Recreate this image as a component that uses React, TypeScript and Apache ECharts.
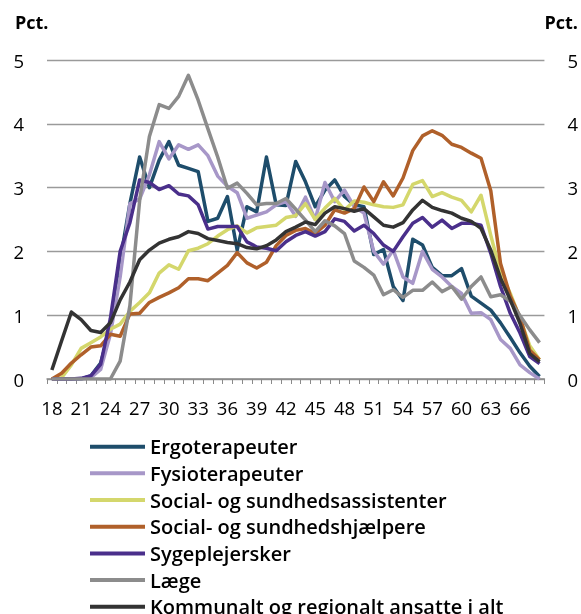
import React, { useEffect, useRef } from "react";
import * as echarts from "echarts";

const ages = ["18","19","20","21","22","23","24","25","26","27","28","29","30","31","32","33","34","35","36","37","38","39","40","41","42","43","44","45","46","47","48","49","50","51","52","53","54","55","56","57","58","59","60","61","62","63","64","65","66","67","68"];

const ergo = [0,0,0,0,0.05,0.25,0.8,1.85,2.75,3.48, 3.0,3.43,3.72,3.35,3.3,3.25,2.47,2.52,2.86,2.02, 2.7,2.62,3.48,2.73,2.72,3.41,3.09,2.7,2.96,3.12, 2.86,2.73,2.7,1.95,2.03,1.45,1.23,2.19,2.1,1.75, 1.62,1.62,1.73,1.3,1.19,1.08,0.88,0.65,0.41,0.2,0.04];
const fysio = [0,0,0,0,0.02,0.15,0.7,1.6,2.75,2.82, 3.2,3.72,3.45,3.67,3.6,3.67,3.5,3.18,3.02,2.92, 2.52,2.57,2.62,2.73,2.78,2.55,2.85,2.5,3.08,2.78, 2.96,2.7,2.6,2.0,1.8,2.02,1.6,1.5,2.0,1.72, 1.6,1.45,1.34,1.03,1.04,0.93,0.62,0.48,0.22,0.1,0];
const ssa = [0,0.02,0.22,0.48,0.57,0.66,0.78,0.86,1.06,1.2, 1.35,1.66,1.79,1.72,2.01,2.05,2.12,2.24,2.34,2.4, 2.29,2.37,2.39,2.41,2.53,2.56,2.75,2.5,2.68,2.83, 2.65,2.79,2.77,2.73,2.7,2.69,2.73,3.05,3.11,2.86, 2.92,2.85,2.8,2.62,2.88,2.25,1.67,1.34,0.95,0.52,0.3];
const ssh = [0,0.09,0.25,0.38,0.5,0.52,0.7,0.67,1.02,1.03, 1.2,1.28,1.35,1.43,1.57,1.57,1.54,1.66,1.78,1.98, 1.82,1.74,1.83,2.09,2.25,2.33,2.36,2.28,2.41,2.65, 2.6,2.67,3.01,2.78,3.09,2.87,3.15,3.58,3.81,3.89, 3.82,3.68,3.63,3.54,3.46,2.95,1.81,1.3,0.97,0.45,0.3];
const syge = [0,0,0,0.01,0.05,0.23,0.95,2.0,2.45,3.12, 3.08,2.97,3.03,2.9,2.87,2.73,2.35,2.39,2.39,2.39, 2.15,2.07,2.05,2.01,2.15,2.25,2.31,2.24,2.31,2.51, 2.47,2.32,2.41,2.28,2.1,2.0,2.23,2.44,2.53,2.38, 2.49,2.36,2.44,2.44,2.41,1.97,1.45,1.03,0.72,0.35,0.24];
const laege = [0,0,0,0,0,0,0,0.28,1.15,2.8, 3.8,4.3,4.24,4.43,4.76,4.37,3.92,3.48,2.99,3.07, 2.91,2.73,2.75,2.75,2.83,2.66,2.49,2.31,2.48,2.4, 2.28,1.85,1.75,1.63,1.32,1.4,1.28,1.39,1.39,1.52, 1.37,1.45,1.25,1.45,1.6,1.29,1.32,1.22,0.99,0.77,0.57];
const total = [0.14,0.6,1.05,0.93,0.76,0.73,0.88,1.24,1.52,1.87, 2.02,2.13,2.19,2.23,2.31,2.28,2.2,2.17,2.14,2.12, 2.06,2.04,2.09,2.18,2.31,2.38,2.46,2.42,2.6,2.7, 2.67,2.63,2.67,2.54,2.41,2.38,2.45,2.65,2.8,2.69, 2.64,2.6,2.52,2.47,2.36,2.02,1.58,1.24,0.87,0.4,0.27];

const seriesNames = [
  "Ergoterapeuter",
  "Fysioterapeuter",
  "Social- og sundhedsassistenter",
  "Social- og sundhedshjælpere",
  "Sygeplejersker",
  "Læge",
  "Kommunalt og regionalt ansatte i alt",
];
const seriesData = [ergo, fysio, ssa, ssh, syge, laege, total];
const colors = ["#1e4d6b", "#a797c8", "#d4d76c", "#b0602a", "#4a2f8b", "#8c8c8c", "#333333"];

const FONT = "'Open Sans', 'Noto Sans', sans-serif";

export default function App() {
  const ref = useRef<HTMLDivElement>(null);
  useEffect(() => {
    const chart = echarts.init(ref.current!, null, { renderer: "svg" });
    const axisLabel = { fontSize: 18.5, color: "#000", fontFamily: FONT };
    chart.setOption({
      animation: false,
      color: colors,
      grid: { left: 47, right: 34, top: 60, bottom: 235 },
      graphic: [
        { type: "text", left: 15, top: 13, style: { text: "Pct.", font: `bold 18px ${FONT}`, fill: "#000" } },
        { type: "text", right: 3, top: 13, style: { text: "Pct.", font: `bold 18px ${FONT}`, fill: "#000" } },
      ],
      legend: {
        orient: "vertical",
        left: 90,
        top: 436.7,
        height: 400,
        padding: 0,
        icon: "rect",
        itemWidth: 55,
        itemHeight: 4,
        itemGap: 6.67,
        textStyle: { fontSize: 20, fontWeight: 600, color: "#000", fontFamily: FONT, lineHeight: 20 },
        data: seriesNames,
      },
      xAxis: {
        type: "category",
        data: ages,
        boundaryGap: true,
        axisLine: { lineStyle: { color: "#8a8a8a", width: 1.5 } },
        axisTick: { show: true, interval: 0, length: 5, lineStyle: { color: "#8a8a8a" } },
        axisLabel: { ...axisLabel, interval: 2, margin: 19 },
        splitLine: { show: false },
      },
      yAxis: [
        {
          type: "value", min: 0, max: 5, interval: 1, position: "left",
          axisLine: { show: false }, axisTick: { show: false },
          axisLabel: { ...axisLabel, margin: 23 },
          splitLine: { lineStyle: { color: "#9a9a9a", width: 1.3 } },
        },
        {
          type: "value", min: 0, max: 5, interval: 1, position: "right",
          axisLine: { show: false }, axisTick: { show: false },
          axisLabel: { ...axisLabel, margin: 23 },
          splitLine: { show: false },
        },
      ],
      series: seriesNames.map((name, i) => ({
        name,
        type: "line",
        data: seriesData[i],
        symbol: "none",
        yAxisIndex: 0,
        lineStyle: { width: 3.5, color: colors[i], join: "round" },
        itemStyle: { color: colors[i] },
      })),
    });
    return () => chart.dispose();
  }, []);
  return <div ref={ref} style={{ position: "fixed", left: 0, top: 0, width: 581, height: 614 }} />;
}
